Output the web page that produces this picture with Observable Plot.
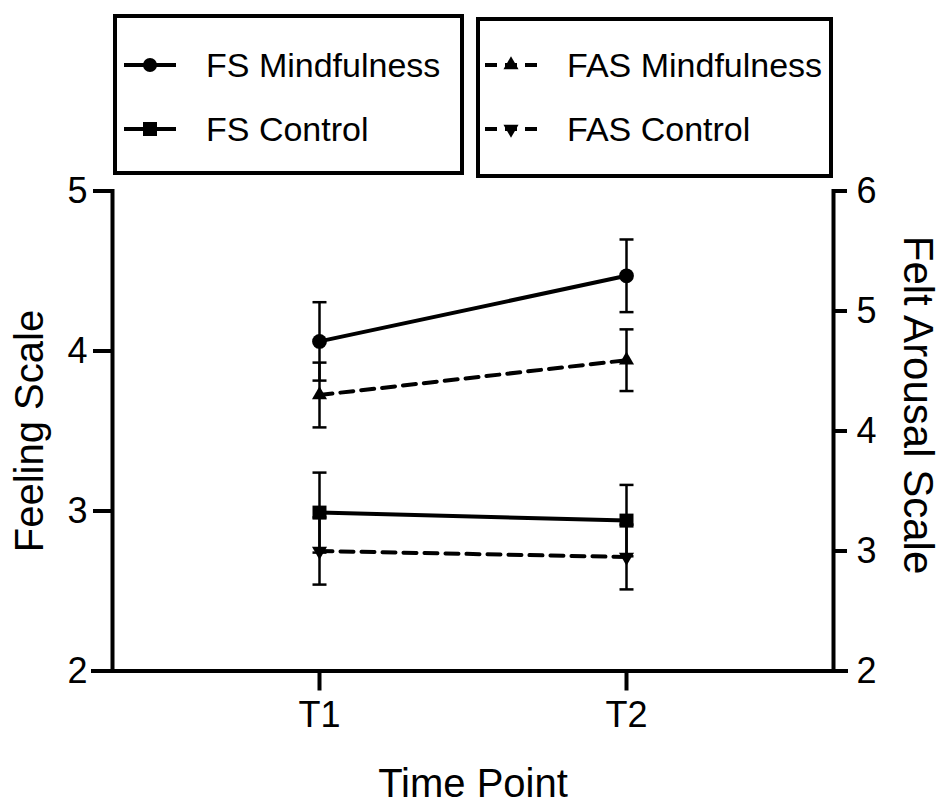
<!DOCTYPE html>
<html>
<head>
<meta charset="utf-8">
<script src="https://cdn.jsdelivr.net/npm/d3@7"></script>
<script src="https://cdn.jsdelivr.net/npm/@observablehq/plot@0.6"></script>
<style>
  html, body { margin: 0; padding: 0; background: #fff; }
  #wrap { position: relative; width: 942px; height: 807px; font-family: "Liberation Sans", Arial, sans-serif; }
  #legend { position: absolute; left: 0; top: 0; }
  #chart { position: absolute; left: 0; top: 0; }
</style>
</head>
<body>
<div id="wrap">
  <div id="chart"></div>
  <svg id="legend" width="942" height="190"></svg>
</div>
<script>
// ---- Data ----
const timePoints = ["T1", "T2"];
// Feeling Scale (left axis, 2–5)
const fsMindfulnessMean = [4.06, 4.47];
const fsMindfulnessErr  = [0.245, 0.227];
const fsControlMean     = [2.99, 2.94];
const fsControlErr      = [0.25, 0.223];
// Felt Arousal Scale (right axis, 2–6)
const fasMindfulnessMean = [4.30, 4.59];
const fasMindfulnessErr  = [0.27, 0.257];
const fasControlMean     = [3.00, 2.95];
const fasControlErr      = [0.28, 0.27];
const leftTicks  = [2, 3, 4, 5];
const rightTicks = [2, 3, 4, 5, 6];
const seriesNames = ["FS Mindfulness", "FS Control", "FAS Mindfulness", "FAS Control"];

// map right-axis values (2..6) onto the left-axis domain (2..5)
const toLeft = v => 2 + (v - 2) * 0.75;
const fromLeft = v => 2 + (v - 2) / 0.75;

function rows(name, means, errs, conv) {
  return timePoints.map((t, i) => ({
    series: name, time: t,
    y: conv(means[i]), lo: conv(means[i] - errs[i]), hi: conv(means[i] + errs[i])
  }));
}
const id = v => v;
const fsMind = rows(seriesNames[0], fsMindfulnessMean, fsMindfulnessErr, id);
const fsCtrl = rows(seriesNames[1], fsControlMean, fsControlErr, id);
const fasMind = rows(seriesNames[2], fasMindfulnessMean, fasMindfulnessErr, toLeft);
const fasCtrl = rows(seriesNames[3], fasControlMean, fasControlErr, toLeft);
const all = [...fsMind, ...fsCtrl, ...fasMind, ...fasCtrl];

const triangleDown = {
  draw(context, size) {
    const s3 = Math.sqrt(3);
    const y = -Math.sqrt(size / (s3 * 3));
    context.moveTo(0, -y * 2);
    context.lineTo(-s3 * y, y);
    context.lineTo(s3 * y, y);
    context.closePath();
  }
};
// horizontal error-bar cap
const capSymbol = {
  draw(context) {
    context.moveTo(-7, 0);
    context.lineTo(7, 0);
  }
};

const chart = Plot.plot({
  width: 942,
  height: 807,
  marginLeft: 112,
  marginRight: 109,
  marginTop: 190.5,
  marginBottom: 136.5,
  style: { fontFamily: '"Liberation Sans", Arial, sans-serif', fontSize: "36px", color: "#000", background: "transparent" },
  x: { type: "point", domain: timePoints, padding: 0.674 },
  y: { domain: [2, 5] },
  marks: [
    Plot.axisX({ tickSize: 20, strokeWidth: 4, tickPadding: 10, fontSize: 36, label: null }),
    Plot.axisY({ anchor: "left", ticks: leftTicks, tickFormat: d => String(d), tickSize: 19, strokeWidth: 4, tickPadding: 6, fontSize: 36, label: null }),
    Plot.axisY({ anchor: "right", ticks: rightTicks.map(toLeft), tickFormat: d => String(Math.round(fromLeft(d))),
                 tickSize: 13, strokeWidth: 4, tickPadding: 10, fontSize: 36, label: null }),
    Plot.ruleY([2], { strokeWidth: 4, insetLeft: -21, insetRight: -15 }),
    Plot.frame({ anchor: "left", strokeWidth: 4 }),
    Plot.frame({ anchor: "right", strokeWidth: 4 }),
    // axis titles
    Plot.text(["Feeling Scale"], { frameAnchor: "left", textAnchor: "middle", lineAnchor: "middle", rotate: -90, dx: -82, fontSize: 40 }),
    Plot.text(["Felt Arousal Scale"], { frameAnchor: "right", textAnchor: "middle", lineAnchor: "middle", rotate: 90, dx: 84, dy: -26, fontSize: 42 }),
    Plot.text(["Time Point"], { frameAnchor: "bottom", lineAnchor: "middle", dy: 113, fontSize: 40 }),
    // error bars
    Plot.ruleX(all, { x: "time", y1: "lo", y2: "hi", strokeWidth: 2.5 }),
    Plot.dot(all, { x: "time", y: "lo", symbol: capSymbol, stroke: "black", fill: "none", strokeWidth: 2.5 }),
    Plot.dot(all, { x: "time", y: "hi", symbol: capSymbol, stroke: "black", fill: "none", strokeWidth: 2.5 }),
    // lines
    Plot.line([...fsMind, ...fsCtrl], { x: "time", y: "y", z: "series", stroke: "black", strokeWidth: 4 }),
    Plot.line([...fasMind, ...fasCtrl], { x: "time", y: "y", z: "series", stroke: "black", strokeWidth: 4, strokeDasharray: "13,8" }),
    // markers
    Plot.dot(fsMind, { x: "time", y: "y", symbol: "circle", fill: "black", r: 7.4 }),
    Plot.dot(fsCtrl, { x: "time", y: "y", symbol: "square", fill: "black", r: 7.9 }),
    Plot.dot(fasMind, { x: "time", y: "y", symbol: "triangle", fill: "black", r: 5.6 }),
    Plot.dot(fasCtrl, { x: "time", y: "y", symbol: triangleDown, fill: "black", r: 5.6 })
  ]
});
document.getElementById("chart").appendChild(chart);

// ---- Legend ----
const lg = d3.select("#legend");
const font = '"Liberation Sans", Arial, sans-serif';
lg.append("rect").attr("x", 115).attr("y", 16).attr("width", 347).attr("height", 157)
  .attr("fill", "none").attr("stroke", "black").attr("stroke-width", 4);
lg.append("rect").attr("x", 478).attr("y", 19).attr("width", 353).attr("height", 157)
  .attr("fill", "none").attr("stroke", "black").attr("stroke-width", 4);
const legendItems = [
  { name: seriesNames[0], x0: 124, y: 65, dash: null, sym: d3.symbolCircle, size: Math.PI * 7 * 7 },
  { name: seriesNames[1], x0: 124, y: 129, dash: null, sym: d3.symbolSquare, size: 14 * 14 },
  { name: seriesNames[2], x0: 485, y: 65, dash: "12,8", sym: d3.symbolTriangle, size: Math.PI * 5.6 * 5.6 },
  { name: seriesNames[3], x0: 485, y: 129, dash: "12,8", sym: triangleDown, size: Math.PI * 5.6 * 5.6 }
];
legendItems.forEach(it => {
  const g = lg.append("g");
  g.append("line").attr("x1", it.x0).attr("x2", it.x0 + 52).attr("y1", it.y).attr("y2", it.y)
    .attr("stroke", "black").attr("stroke-width", 4).attr("stroke-dasharray", it.dash);
  g.append("path").attr("d", d3.symbol(it.sym, it.size)()).attr("transform", `translate(${it.x0 + 26},${it.y})`)
    .attr("fill", "black");
  g.append("text").attr("x", it.x0 + 82).attr("y", it.y + 12).attr("font-family", font).attr("font-size", 34)
    .text(it.name);
});
</script>
</body>
</html>
